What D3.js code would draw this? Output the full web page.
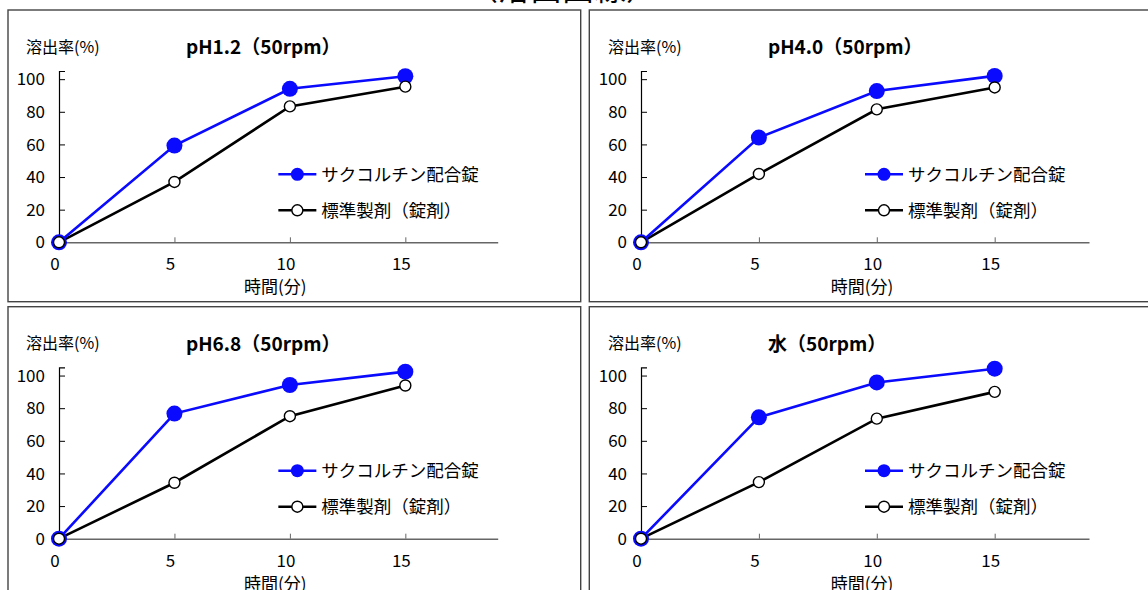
<!DOCTYPE html>
<html><head><meta charset="utf-8">
<script src="https://cdn.jsdelivr.net/npm/d3@7"></script>
<style>
html,body{margin:0;padding:0;background:#fff;}
svg{display:block;font-family:"Noto Sans CJK JP","Noto Sans",sans-serif;}
</style></head>
<body>
<svg id="chart" width="1148" height="590"></svg>
<script>
// ---- data ----
const times = [0, 5, 10, 15];
const panelTitles = ["pH1.2（50rpm）", "pH4.0（50rpm）", "pH6.8（50rpm）", "水（50rpm）"];
const seriesNames = ["サクコルチン配合錠", "標準製剤（錠剤）"];
const testValues = [
  [0, 59.3, 94.1, 101.8],
  [0, 64.2, 92.7, 102.0],
  [0, 76.7, 94.2, 102.4],
  [0, 74.4, 95.8, 104.2]
];
const refValues = [
  [0, 37.0, 83.3, 95.4],
  [0, 41.9, 81.5, 94.9],
  [0, 34.3, 75.1, 93.9],
  [0, 34.7, 73.6, 90.0]
];
const xTicks = [0, 5, 10, 15];
const yTicks = [0, 20, 40, 60, 80, 100];
const xDomain = [0, 19];
const yDomain = [0, 105];
const yLabel = "溶出率(%)";
const xLabel = "時間(分)";
const mainTitle = "（溶出曲線）";

// ---- layout ----
const panels = [
  {bx: 8, by: 10, bw: 572.7, bh: 291.7, x0: 59, x1: 497.7, yb: 242.3},
  {bx: 589.3, by: 10, bw: 600, bh: 291.7, x0: 641, x1: 1089, yb: 242.3},
  {bx: 8, by: 306.7, bw: 572.7, bh: 300, x0: 59, x1: 497.7, yb: 538.7},
  {bx: 589.3, by: 306.7, bw: 600, bh: 300, x0: 641, x1: 1089, yb: 538.7}
];
const plotH = 171.3; // 0..105
const blue = "#0a0aff";

const svg = d3.select("#chart");

svg.append("text").attr("x", 562).attr("y", 0).attr("text-anchor", "middle")
  .attr("font-size", 32).attr("fill", "#000").text(mainTitle);

panels.forEach((p, i) => {
  const g = svg.append("g");
  g.append("rect").attr("x", p.bx).attr("y", p.by).attr("width", p.bw).attr("height", p.bh)
    .attr("fill", "none").attr("stroke", "#444").attr("stroke-width", 1.4);

  const x = d3.scaleLinear().domain(xDomain).range([p.x0, p.x1]);
  const y = d3.scaleLinear().domain(yDomain).range([p.yb, p.yb - plotH]);

  // y axis
  const ya = g.append("g").attr("transform", `translate(${p.x0},0)`)
    .call(d3.axisRight(y).tickValues(yTicks).tickSize(6).tickFormat(""));
  ya.select(".domain").attr("stroke", "#000").attr("stroke-width", 1.2);
  ya.selectAll(".tick line").attr("stroke", "#000").attr("stroke-width", 1);
  g.selectAll(".ylab").data(yTicks).enter().append("text")
    .attr("x", p.x0 - 14).attr("y", d => y(d)).attr("dy", "0.36em")
    .attr("text-anchor", "end").attr("font-size", 17).attr("fill", "#000")
    .text(d => d);

  // x axis
  const xa = g.append("g").attr("transform", `translate(0,${p.yb})`)
    .call(d3.axisTop(x).tickValues(xTicks.filter(t => t > 0)).tickSize(5).tickFormat("").tickSizeOuter(0));
  xa.select(".domain").attr("stroke", "#666").attr("stroke-width", 1.4);
  xa.selectAll(".tick line").attr("stroke", "#666").attr("stroke-width", 1);
  g.selectAll(".xlab").data(xTicks).enter().append("text")
    .attr("x", d => x(d) - 4).attr("y", p.yb + 22).attr("dy", "0.36em")
    .attr("text-anchor", "middle").attr("font-size", 17).attr("fill", "#000")
    .text(d => d);

  g.append("text").attr("x", (p.x0 + p.x1) / 2 - 3).attr("y", p.yb + 45).attr("dy", "0.36em")
    .attr("text-anchor", "middle").attr("font-size", 17).attr("fill", "#000").text(xLabel);

  g.append("text").attr("x", p.x0 - 33).attr("y", p.yb - 195).attr("dy", "0.36em")
    .attr("font-size", 16).attr("fill", "#000").text(yLabel);

  g.append("text").attr("x", p.x0 + 127).attr("y", p.yb - 195).attr("dy", "0.36em")
    .attr("font-size", 19).attr("font-weight", "bold").attr("fill", "#000").text(panelTitles[i]);

  const line = d3.line().x((d, k) => x(times[k])).y(d => y(d));
  const ref = refValues[i], test = testValues[i];

  g.append("path").datum(ref).attr("d", line).attr("fill", "none")
    .attr("stroke", "#000").attr("stroke-width", 2.6);
  g.append("path").datum(test).attr("d", line).attr("fill", "none")
    .attr("stroke", blue).attr("stroke-width", 2.6);
  g.selectAll(".tm").data(test).enter().append("circle")
    .attr("cx", (d, k) => x(times[k])).attr("cy", d => y(d)).attr("r", 8).attr("fill", blue);
  g.selectAll(".rm").data(ref).enter().append("circle")
    .attr("cx", (d, k) => x(times[k])).attr("cy", d => y(d)).attr("r", 5.5)
    .attr("fill", "#fff").attr("stroke", "#000").attr("stroke-width", 1.4);

  // legend
  const lx = p.x0 + (p.x1 - p.x0) * 0.5;
  const ly1 = p.yb - 68, ly2 = p.yb - 32;
  g.append("line").attr("x1", lx).attr("x2", lx + 38).attr("y1", ly1).attr("y2", ly1)
    .attr("stroke", blue).attr("stroke-width", 2.6);
  g.append("circle").attr("cx", lx + 19).attr("cy", ly1).attr("r", 6.5).attr("fill", blue);
  g.append("text").attr("x", lx + 43).attr("y", ly1).attr("dy", "0.36em")
    .attr("font-size", 17.5).attr("fill", "#000").text(seriesNames[0]);
  g.append("line").attr("x1", lx).attr("x2", lx + 38).attr("y1", ly2).attr("y2", ly2)
    .attr("stroke", "#000").attr("stroke-width", 2.6);
  g.append("circle").attr("cx", lx + 19).attr("cy", ly2).attr("r", 5.5)
    .attr("fill", "#fff").attr("stroke", "#000").attr("stroke-width", 1.4);
  g.append("text").attr("x", lx + 43).attr("y", ly2).attr("dy", "0.36em")
    .attr("font-size", 17.5).attr("fill", "#000").text(seriesNames[1]);
});
</script>
</body></html>
